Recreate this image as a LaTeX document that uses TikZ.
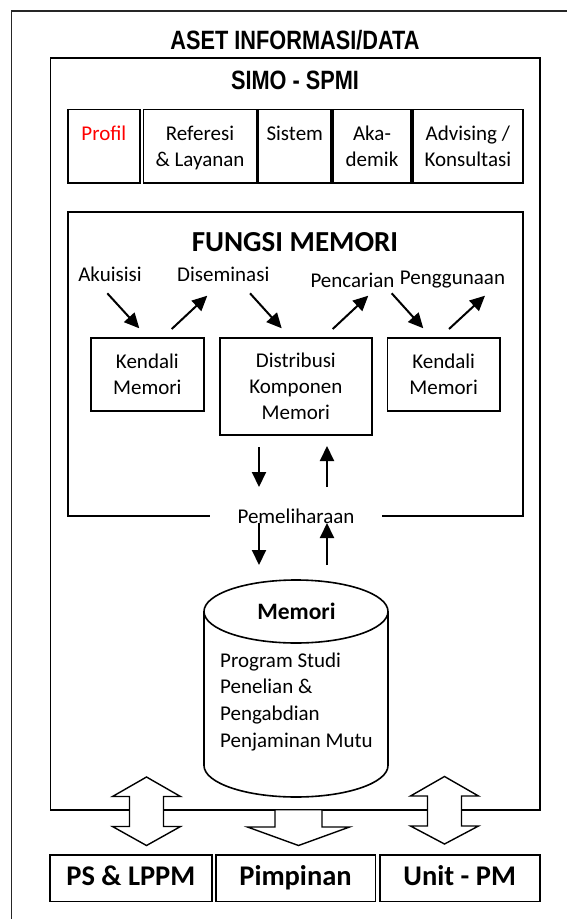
\documentclass[tikz,border=0pt]{standalone}
\usepackage{fontspec}
\setmainfont{Carlito}
\newfontfamily\narrowfont{Liberation Sans}[FakeStretch=0.82]
\usetikzlibrary{arrows.meta}

\begin{document}
\begin{tikzpicture}[x=1pt,y=-1pt,
	box/.style={draw, line width=1.6pt, inner sep=0pt, align=center},
	unitbox/.style={box, minimum height=46.3, text height=20pt, text depth=6pt, font=\bfseries\fontsize{28.5}{32}\selectfont},
	arr/.style={line width=2pt, -{Triangle[length=15pt,width=14pt]}},
	bigarr/.style={draw, line width=1.4pt, fill=white, line join=miter},
	every node/.style={font=\fontsize{21}{26}\selectfont}]

	\clip (0,0) rectangle (567,919);
	\fill[white] (0,0) rectangle (567,919);

	% kotak luar dan kotak SIMO
	\draw[line width=1.4pt, black!85] (11.5,11) rectangle (640,990);
	\draw[line width=1.6pt] (50.5,58) rectangle (539.7,809.7);

	\node[font=\narrowfont\bfseries\fontsize{26.5}{30}\selectfont] (aset) at (295,40) {ASET INFORMASI/DATA};
	\node[font=\narrowfont\bfseries\fontsize{26.5}{30}\selectfont] (simo) at (295,80) {SIMO - SPMI};

	\node[box, minimum width=72.3, minimum height=73.4, text depth=0pt, text=red] (profil) at (103.85,146) {Profil\\\mbox{}};
	\node[box, minimum width=113.4, minimum height=73.4, text depth=0pt] (referesi) at (200,146) {Referesi\\\& Layanan};
	\node[box, minimum width=72.5, minimum height=73.4, text depth=0pt] (sistem) at (294.75,146) {Sistem\\\mbox{}};
	\node[box, minimum width=78, minimum height=73.4, text depth=0pt] (akademik) at (372,146) {Aka-\\demik};
	\node[box, minimum width=109.7, minimum height=73.4, text depth=0pt] (advising) at (467.85,146) {Advising /\\Konsultasi};

	% fungsi memori
	\node[box, minimum width=454.7, minimum height=304.3] (fungsi) at (295.35,363.85) {};
	\node[font=\bfseries\fontsize{29}{34}\selectfont] (judul) at (295,242) {FUNGSI MEMORI};

	\node (akuisisi) at (110,274) {Akuisisi};
	\node (diseminasi) at (223.3,274) {Diseminasi};
	\node (pencarian) at (352.5,280) {Pencarian};
	\node (penggunaan) at (452.5,280) {Penggunaan};

	\node[box, minimum width=113.3, minimum height=73, text depth=0pt] (kendaliA) at (147.35,374.5) {Kendali\\Memori};
	\node[box, minimum width=151.7, minimum height=97, text depth=0pt] (distribusi) at (295.85,386.5) {Distribusi\\Komponen\\Memori};
	\node[box, minimum width=112.7, minimum height=73, text depth=0pt] (kendaliB) at (443.65,374.5) {Kendali\\Memori};

	\coordinate (a1) at (107.3,293.3); \coordinate (b1) at (139.3,328.3);
	\coordinate (a2) at (171.7,329); \coordinate (b2) at (207.3,295.7);
	\coordinate (a3) at (250,293.3); \coordinate (b3) at (281.7,328.3);
	\coordinate (a4) at (332.7,329); \coordinate (b4) at (368.3,295.7);
	\coordinate (a5) at (391.7,293.3); \coordinate (b5) at (423.3,328.3);
	\coordinate (a6) at (449,329); \coordinate (b6) at (485,295.7);
	\draw[arr] (a1)--(b1);
	\draw[arr] (a2)--(b2);
	\draw[arr] (a3)--(b3);
	\draw[arr] (a4)--(b4);
	\draw[arr] (a5)--(b5);
	\draw[arr] (a6)--(b6);

	\node[fill=white, minimum width=172, inner sep=2pt] (pemeliharaan) at (296,516) {Pemeliharaan};

	\coordinate (t1) at (259,447); \coordinate (u1) at (259,487);
	\coordinate (t2) at (327,487); \coordinate (u2) at (327,446);
	\coordinate (t3) at (259,523); \coordinate (u3) at (259,565);
	\coordinate (t4) at (327,565); \coordinate (u4) at (327,523);
	\draw[arr] (t1)--(u1);
	\draw[arr] (t2)--(u2);
	\draw[arr] (t3)--(u3);
	\draw[arr] (t4)--(u4);

	% tabung memori
	\draw[line width=1.6pt, fill=white] (204,611.5)--(204,765.5) arc[start angle=180, end angle=0, x radius=92, y radius=31.5]--(388,611.5);
	\draw[line width=1.6pt] (296,611.5) ellipse [x radius=92, y radius=31.5];
	\node[font=\bfseries\fontsize{23.5}{28}\selectfont] (memori) at (296.5,611.5) {Memori};
	\node[anchor=west, align=left, font=\fontsize{21}{26.7}\selectfont] (isi) at (216.7,701.7) {Program Studi\\Penelian \&\\Pengabdian\\Penjaminan Mutu};

	% panah besar
	\draw[bigarr] (146.5,777)--(180.5,796.5)--(163.5,796.5)--(163.5,826.5)--(180.5,826.5)--(146.5,845.5)--(112.5,826.5)--(129.5,826.5)--(129.5,796.5)--(112.5,796.5)--cycle;
	\draw[bigarr] (275,809.7)--(275,827)--(247.5,827)--(298.5,845.5)--(349.5,827)--(322,827)--(322,809.7)--cycle;
	\draw[bigarr] (444.5,776.5)--(478.5,796)--(461.5,796)--(461.5,826)--(478.5,826)--(444.5,844)--(410.5,826)--(427.5,826)--(427.5,796)--(410.5,796)--cycle;

	\node[unitbox, minimum width=161.7] (ps) at (130.85,878.15) {PS \& LPPM};
	\node[unitbox, minimum width=159.6] (pimpinan) at (295.5,878.15) {Pimpinan};
	\node[unitbox, minimum width=160] (unit) at (459.7,878.15) {Unit - PM};

\end{tikzpicture}
\end{document}
